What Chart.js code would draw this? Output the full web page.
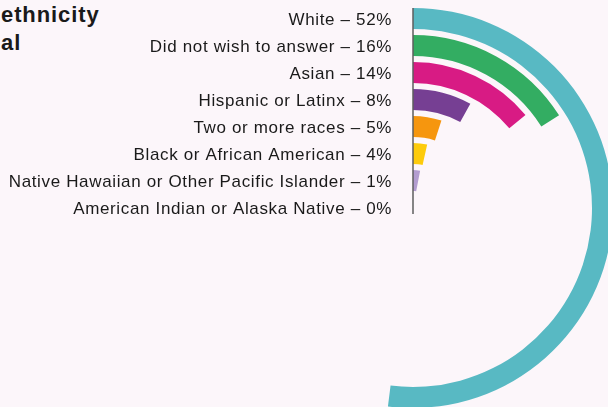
<!DOCTYPE html>
<html>
<head>
<meta charset="utf-8">
<script src="https://cdn.jsdelivr.net/npm/chart.js@4.4.1/dist/chart.umd.min.js"></script>
<style>
  html, body { margin: 0; padding: 0; }
  body { width: 608px; height: 407px; overflow: hidden; background: #fcf6fa; position: relative; }
  .title { position: absolute; left: 1px; top: 1px; font-family: "Liberation Sans", Arial, sans-serif; font-weight: bold;
           font-size: 22px; letter-spacing: 0.9px; line-height: 28px; color: #1a1a1a; }
  .title div { height: 28px; }
  #wrap { position: absolute; left: 0; top: 0; }
</style>
</head>
<body>
<div class="title"><div>ethnicity</div><div>al</div></div>
<div id="wrap"><canvas id="ring-chart" width="640" height="420"></canvas></div>
<script>
const categories = [
  "White",
  "Did not wish to answer",
  "Asian",
  "Hispanic or Latinx",
  "Two or more races",
  "Black or African American",
  "Native Hawaiian or Other Pacific Islander",
  "American Indian or Alaska Native"
];
// percentages as printed in the labels
const values = [52, 16, 14, 8, 5, 4, 1, 0];
// arc lengths as drawn (small rings are drawn a bit longer than their label)
const arcValues = [52, 16, 14, 8, 5, 3.5, 3, 0];
const colors = ["#58b9c3", "#33ad62", "#d81b84", "#763f93", "#f6960e", "#fdcb0b", "#b39dd0", "#888888"];

// ring / gap thickness (weights), last ring reaches the center
const ringWeight = 21, gapWeight = 6, lastWeight = 11;

var datasets = [];
var ringIndex = [];
categories.forEach(function (cat, i) {
  var last = i === categories.length - 1;
  ringIndex.push(datasets.length);
  datasets.push({
    label: cat,
    data: [arcValues[i], 100 - arcValues[i]],
    backgroundColor: [colors[i], "rgba(0,0,0,0)"],
    borderWidth: 0,
    weight: last ? lastWeight : ringWeight
  });
  if (!last) {
    datasets.push({ label: "", data: [100], backgroundColor: ["rgba(0,0,0,0)"], borderWidth: 0, weight: gapWeight });
  }
});

var labelPlugin = {
  id: "ringLabels",
  afterDraw: function (chart) {
    var ctx = chart.ctx;
    var first = chart.getDatasetMeta(ringIndex[0]).data[0];
    var cx = first.x, cy = first.y;
    var half = (first.outerRadius - first.innerRadius) / 2;
    // axis line
    ctx.save();
    ctx.strokeStyle = "#5e5e5e";
    ctx.lineWidth = 1.5;
    ctx.beginPath();
    ctx.moveTo(cx, cy - first.outerRadius);
    ctx.lineTo(cx, cy + 6);
    ctx.stroke();
    // labels
    ctx.fillStyle = "#1a1a1a";
    ctx.font = "17px 'Liberation Sans', Arial, sans-serif";
    if ("letterSpacing" in ctx) ctx.letterSpacing = "0.65px";
    ctx.textAlign = "right";
    ctx.textBaseline = "alphabetic";
    ringIndex.forEach(function (di, i) {
      var arc = chart.getDatasetMeta(di).data[0];
      var r = arc.outerRadius - half;
      ctx.fillText(categories[i] + " \u2013 " + values[i] + "%", cx - 21, cy - r + 6);
    });
    ctx.restore();
  }
};

var ctx = document.getElementById("ring-chart").getContext("2d");
window.myRings = new Chart(ctx, {
  type: "doughnut",
  data: { labels: ["value", "rest"], datasets: datasets },
  options: {
    responsive: false,
    animation: false,
    cutout: 0,
    layout: { padding: { left: 213, right: 27, top: 8, bottom: 12 } },
    plugins: { legend: { display: false }, tooltip: { enabled: false } },
    events: []
  },
  plugins: [labelPlugin]
});
</script>
</body>
</html>
